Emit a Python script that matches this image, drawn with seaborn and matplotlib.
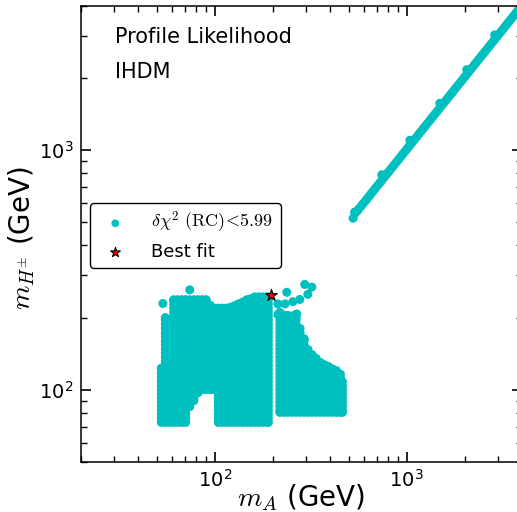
import numpy as np
import pandas as pd
import matplotlib
matplotlib.use("Agg")
import matplotlib.pyplot as plt
import seaborn as sns
from matplotlib.ticker import NullFormatter, LogLocator

# ---------------- data ----------------
# dense scan region: column x positions with lower / upper y bounds
blob_cols_x = [52.6, 55.2, 58, 61, 64, 67.2, 70.5, 74, 77.7, 81.6, 85.7, 90, 94.5, 99.2,
               104.2, 109.4, 114.8, 120.6, 126.6, 132.9, 139.6, 146.6, 153.9, 161.6,
               169.7, 178.2, 187.1, 190,
               218, 229, 240, 252, 265, 278, 292, 306, 321, 337, 354, 372, 390, 410,
               430, 451, 462]
blob_cols_lo = [73, 73, 73, 73, 73, 73, 73, 85, 90, 97, 100, 100, 100, 100,
                73, 73, 73, 73, 73, 73, 73, 73, 73, 73,
                73, 73, 73, 73,
                80.4, 80.4, 80.4, 80.4, 80.4, 80.4, 80.4, 80.4, 80.4, 80.4, 80.4, 80.4,
                80.4, 80.4, 80.4, 80.4, 80.4]
blob_cols_hi = [123, 200, 125, 237, 237, 237, 237, 237, 237, 237, 237, 237, 225, 219,
                219, 219, 219, 221, 224, 228, 232, 237, 240, 244,
                244, 244, 244, 244,
                210, 205, 204, 203, 200, 180, 163, 147, 140, 135, 130, 127, 125, 122,
                120, 116, 108]
# y values sampled by the scan
y_levels = [73, 75.9, 79, 82.1, 85.4, 88.8, 92.4, 96.1, 99.9, 103.9, 108.1, 112.4,
            116.9, 121.6, 126.4, 131.5, 136.8, 142.2, 147.9, 153.8, 160, 166.4, 173.1,
            180, 187.2, 194.7, 202.5, 210.6, 219, 227.8, 236.9, 246.3, 256.2]
# isolated scan points
iso_x = [53.6, 74, 294, 320, 305, 277, 255, 237, 213, 232, 213, 267]
iso_y = [229, 261, 275, 268, 250, 238, 233, 255, 228, 228, 206, 207]
# diagonal branch (m_H+ ~ m_A)
band_x = [525, 535, 538, 552, 565, 580, 594, 609, 624, 640, 656, 672, 689, 706, 724,
          741, 742, 760, 779, 799, 819, 839, 860, 882, 904, 926, 950, 973, 998, 1023,
          1038, 1048, 1074, 1101, 1129, 1157, 1186, 1215, 1246, 1277, 1309, 1342, 1375,
          1410, 1445, 1481, 1486, 1518, 1556, 1595, 1635, 1676, 1718, 1760, 1804, 1850,
          1896, 1943, 1992, 2042, 2053, 2093, 2145, 2199, 2254, 2310, 2368, 2427, 2488,
          2550, 2614, 2679, 2746, 2815, 2871, 2885, 2957, 3031, 3107, 3185, 3264, 3346,
          3429, 3515, 3603, 3693, 3785, 3880, 3977, 4076]
band_y = [520, 552, 545, 557, 571, 586, 600, 615, 630, 646, 663, 679, 696, 713, 731,
          790, 749, 768, 787, 807, 827, 847, 869, 891, 913, 935, 960, 983, 1008, 1033,
          1100, 1058, 1085, 1112, 1140, 1169, 1198, 1227, 1258, 1290, 1322, 1355, 1389,
          1424, 1459, 1496, 1570, 1533, 1572, 1611, 1651, 1693, 1735, 1778, 1822, 1869,
          1915, 1962, 2012, 2062, 2170, 2114, 2166, 2221, 2277, 2333, 2392, 2451, 2513,
          2576, 2640, 2706, 2774, 2843, 3030, 2914, 2987, 3061, 3138, 3217, 3297, 3380,
          3463, 3550, 3639, 3730, 3823, 3919, 4017, 4117]
best_x = [195]
best_y = [248]

# ---------------- assemble table ----------------
px, py = [], []
for cx, lo, hi in zip(blob_cols_x, blob_cols_lo, blob_cols_hi):
    ys = [lo] + [v for v in y_levels if lo < v < hi] + [hi]
    px += [cx] * len(ys)
    py += ys
px += iso_x + band_x
py += iso_y + band_y
df = pd.DataFrame({"mA": px, "mH": py})
df_best = pd.DataFrame({"mA": best_x, "mH": best_y})

# ---------------- plot ----------------
sns.set_style("white")
plt.rcParams["font.family"] = ["DejaVu Sans"]
plt.rcParams["mathtext.fontset"] = "cm"
plt.rcParams["text.color"] = "black"
plt.rcParams["axes.labelcolor"] = "black"

fig = plt.figure(figsize=(5.17, 5.12), dpi=100)
ax = fig.add_axes([0.1561, 0.0982, 0.8542, 0.8900])

sns.scatterplot(data=df, x="mA", y="mH", ax=ax, color="#00bfbf", s=42,
                linewidth=0, edgecolor="none",
                label=r"$\delta\chi^2\ (\mathrm{RC})\!<\!5.99$", zorder=2)
sns.scatterplot(data=df_best, x="mA", y="mH", ax=ax, color="red", marker="*",
                s=75, edgecolor="black", linewidth=0.8, label="Best fit", zorder=3)

ax.set_xscale("log")
ax.set_yscale("log")
ax.set_xlim(20, 4000)
ax.set_ylim(50, 4000)
for axis in (ax.xaxis, ax.yaxis):
    axis.set_major_locator(LogLocator(base=10))
    axis.set_minor_locator(LogLocator(base=10, subs=(2, 3, 4, 5, 6, 7, 8, 9), numticks=20))
    axis.set_minor_formatter(NullFormatter())

for sp in ax.spines.values():
    sp.set_linewidth(1.1)
    sp.set_color("black")
ax.tick_params(which="both", direction="in", bottom=True, left=True, top=True,
               right=True, colors="black", labelcolor="black")
ax.tick_params(which="major", length=7.5, width=1.2, labelsize=14, pad=5.5)
ax.tick_params(which="minor", length=4.5, width=1.0)

ax.set_xlabel(r"$m_A$ (GeV)", fontsize=20)
ax.set_ylabel(r"$m_{H^{\pm}}$ (GeV)", fontsize=20)
ax.xaxis.set_label_coords(0.5, -0.046)
ax.yaxis.set_label_coords(-0.099, 0.49)

ax.text(0.0777, 0.918, "Profile Likelihood", transform=ax.transAxes, fontsize=15,
        va="baseline", ha="left")
ax.text(0.0777, 0.841, "IHDM", transform=ax.transAxes, fontsize=15,
        va="baseline", ha="left")

leg = ax.legend(loc="upper left", bbox_to_anchor=(0.021, 0.5677), fontsize=13,
                frameon=True, fancybox=True, edgecolor="black", framealpha=1,
                markerscale=0.85, handletextpad=1.0, borderpad=0.4,
                labelspacing=0.4, borderaxespad=0)
leg.get_frame().set_linewidth(1.0)

fig.savefig("out.png", dpi=100)
